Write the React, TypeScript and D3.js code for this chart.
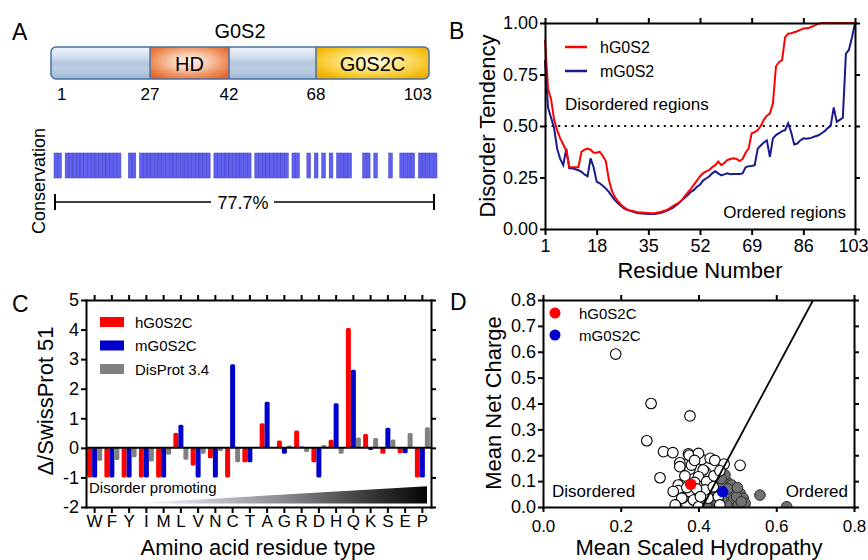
import { useEffect, useRef } from "react";
import * as d3 from "d3";

const FONT = "'Liberation Sans', Arial, Helvetica, sans-serif";

// ---- Panel A: domain map and conservation track
const domainBounds = [1, 27, 42, 68, 103];
const domainNames = ["", "HD", "", "G0S2C"];
const domainKinds = ["plain", "hd", "plain", "c"];
const domainFrac = [0, 0.262, 0.471, 0.701, 1]; // schematic, not to scale
const nonConserved = [3, 19, 20, 23, 43, 54, 64, 67, 68, 70, 72, 74, 76, 81, 82, 83, 86, 88, 89, 90, 92, 93, 98];
const residueCount = 103;
const conservationPct = "77.7%";

// ---- Panel B: disorder tendency per residue
const residueTicks = [1, 18, 35, 52, 69, 86, 103];
const tendencyTicks = [0, 0.25, 0.5, 0.75, 1];
const hG0S2 = [
  0.92, 0.68, 0.63, 0.53, 0.48, 0.44, 0.41, 0.38, 0.30, 0.30,
  0.30, 0.30, 0.375, 0.385, 0.39, 0.385, 0.37, 0.37, 0.375, 0.355,
  0.33, 0.24, 0.185, 0.155, 0.135, 0.118, 0.105, 0.095, 0.09, 0.087,
  0.083, 0.081, 0.08, 0.079, 0.078, 0.077, 0.077, 0.08, 0.083, 0.087,
  0.092, 0.10, 0.11, 0.12, 0.127, 0.14, 0.16, 0.178, 0.195, 0.215,
  0.235, 0.255, 0.27, 0.28, 0.286, 0.30, 0.31, 0.327, 0.31, 0.32,
  0.335, 0.34, 0.343, 0.34, 0.33, 0.34, 0.37, 0.39, 0.465, 0.47,
  0.48, 0.50, 0.53, 0.55, 0.56, 0.61, 0.79, 0.81, 0.82, 0.93,
  0.948, 0.95, 0.955, 0.96, 0.967, 0.973, 0.975, 0.977, 0.984, 0.99,
  0.997, 1, 1, 1, 1, 1, 1, 1, 1, 1,
  1, 1, 1,
];
const mG0S2 = [
  0.82, 0.59, 0.54, 0.49, 0.39, 0.34, 0.31, 0.39, 0.295, 0.295,
  0.29, 0.285, 0.278, 0.265, 0.256, 0.343, 0.30, 0.23, 0.222, 0.21,
  0.197, 0.18, 0.16, 0.14, 0.125, 0.112, 0.10, 0.093, 0.088, 0.083,
  0.079, 0.077, 0.075, 0.074, 0.073, 0.073, 0.073, 0.075, 0.078, 0.082,
  0.088, 0.095, 0.103, 0.113, 0.125, 0.14, 0.152, 0.165, 0.18, 0.19,
  0.205, 0.215, 0.235, 0.245, 0.255, 0.27, 0.28, 0.27, 0.26, 0.265,
  0.27, 0.266, 0.267, 0.267, 0.267, 0.27, 0.30, 0.305, 0.306, 0.31,
  0.39, 0.405, 0.42, 0.43, 0.35, 0.44, 0.456, 0.465, 0.475, 0.48,
  0.513, 0.47, 0.41, 0.415, 0.43, 0.44, 0.438, 0.44, 0.445, 0.45,
  0.455, 0.465, 0.475, 0.49, 0.50, 0.59, 0.52, 0.53, 0.54, 0.85,
  0.87, 0.93, 1.0,
];

// ---- Panel C: composition profile
const aminoAcids = ["W", "F", "Y", "I", "M", "L", "V", "N", "C", "T", "A", "G", "R", "D", "H", "Q", "K", "S", "E", "P"];
const hG0S2C = [-1, -1, -1, -1, -1, 0.5, -0.6, -0.35, -1, -0.49, 0.83, 0.25, 0.59, -0.49, 0.27, 4.05, 0.47, -0.2, -0.18, -1];
const mG0S2C = [-1, -1, -1, -1, -1, 0.78, -1, -1, 2.83, -0.49, 1.56, -0.2, 0.05, -1, 1.51, 2.64, -0.07, 0.68, -0.18, -1];
const disProt = [-0.44, -0.41, -0.32, -0.46, -0.23, -0.4, -0.2, -0.11, -0.49, 0.02, 0.03, 0.08, -0.14, 0.1, -0.2, 0.35, 0.33, 0.28, 0.5, 0.7];
const compTicks = [-2, -1, 0, 1, 2, 3, 4, 5];

// ---- Panel D: charge-hydropathy plot
const hydroTicks = [0, 0.2, 0.4, 0.6, 0.8];
const chargeTicks = [0, 0.1, 0.2, 0.3, 0.4, 0.5, 0.6, 0.7, 0.8];
const disorderedPts = [
  [0.187, 0.591], [0.278, 0.40], [0.378, 0.352], [0.267, 0.256], [0.301, 0.113], [0.31, 0.214],
  [0.334, 0.21], [0.352, 0.171], [0.374, 0.205], [0.378, 0.146], [0.376, 0.2], [0.408, 0.184],
  [0.417, 0.136], [0.40, 0.207], [0.43, 0.188], [0.442, 0.18], [0.466, 0.166], [0.507, 0.161],
  [0.352, 0.156], [0.382, 0.162], [0.412, 0.143], [0.40, 0.117], [0.421, 0.098], [0.361, 0.091],
  [0.348, 0.085], [0.348, 0.063], [0.344, 0.004], [0.36, 0.035], [0.378, 0.059], [0.357, 0.034],
  [0.387, 0.027], [0.34, 0.008], [0.40, 0.001], [0.425, 0.034], [0.451, 0.04], [0.455, 0.008],
  [0.417, 0.066], [0.438, 0.078], [0.365, 0.12], [0.39, 0.095], [0.395, 0.07], [0.37, 0.075],
  [0.405, 0.04], [0.335, 0.06], [0.44, 0.12], [0.455, 0.14], [0.39, 0.18],
];
const orderedPts = [
  [0.451, 0.104], [0.473, 0.098], [0.485, 0.085], [0.494, 0.066], [0.507, 0.053], [0.515, 0.034],
  [0.52, 0.014], [0.481, 0.053], [0.49, 0.027], [0.473, 0.008], [0.502, 0.008], [0.434, 0.008],
  [0.421, 0.001], [0.442, 0.053], [0.468, 0.124], [0.46, 0.085], [0.475, 0.07], [0.498, 0.04],
  [0.46, 0.03], [0.448, 0.02], [0.51, 0.02], [0.458, 0.11], [0.558, 0.046], [0.627, 0.001],
  [0.43, 0.09], [0.5, 0.075],
];
const hPoint = [0.38, 0.088];
const mPoint = [0.462, 0.059];
const boundary = [[0.41, 0], [0.695, 0.8]];

const RED = "#ff0000";
const NAVY = "#1a1a8c";
const BLUE = "#0000cc";
const GRAY = "#808080";

function axisStyle(g: any, fs: number) {
  g.attr("font-family", FONT).attr("font-size", fs);
  g.select(".domain").attr("stroke-width", 2).attr("stroke-linecap", "square");
  g.selectAll(".tick line").attr("stroke-width", 2);
  g.selectAll(".tick text").attr("fill", "#000");
}

function text(g: any, x: number, y: number, s: string, fs: number, anchor = "start") {
  return g.append("text").attr("x", x).attr("y", y).attr("font-size", fs)
    .attr("font-family", FONT).attr("text-anchor", anchor).attr("fill", "#000").text(s);
}

function vtext(g: any, x: number, y: number, s: string, fs: number) {
  return g.append("text").attr("transform", `translate(${x},${y}) rotate(-90)`)
    .attr("font-size", fs).attr("font-family", FONT).attr("text-anchor", "middle").text(s);
}

function addStops(grad: any, stops: [number, string][]) {
  stops.forEach(([o, c]) => grad.append("stop").attr("offset", o).attr("stop-color", c));
}

export default function App() {
  const svgRef = useRef<SVGSVGElement>(null);

  useEffect(() => {
    const svg = d3.select(svgRef.current);
    svg.selectAll("*").remove();
    const defs = svg.append("defs");

    // ================= A =================
    const ga = svg.append("g");
    text(ga, 12, 40, "A", 23);
    text(ga, 240, 38, "G0S2", 20, "middle");

    addStops(defs.append("linearGradient").attr("id", "gBlue").attr("x1", 0).attr("y1", 0).attr("x2", 0).attr("y2", 1),
      [[0, "#eef3f8"], [0.3, "#d3dfec"], [0.5, "#b2c6de"], [0.7, "#bccee3"], [1, "#9db6d6"]]);
    addStops(defs.append("radialGradient").attr("id", "gHD").attr("cx", "50%").attr("cy", "45%").attr("r", "65%"),
      [[0, "#fff8f2"], [0.35, "#f8cdb0"], [0.75, "#ee8a55"], [1, "#e4652a"]]);
    addStops(defs.append("radialGradient").attr("id", "gC").attr("cx", "50%").attr("cy", "45%").attr("r", "65%"),
      [[0, "#fffce8"], [0.35, "#fde88e"], [0.8, "#f5c21a"], [1, "#eeac00"]]);
    const fills: any = { plain: "url(#gBlue)", hd: "url(#gHD)", c: "url(#gC)" };

    const barL = 51, barR = 429, barT = 47, barH = 32;
    const dx = d3.scaleLinear().domain(domainBounds).range(domainFrac.map(f => barL + f * (barR - barL)));
    defs.append("clipPath").attr("id", "barClip").append("rect")
      .attr("x", barL).attr("y", barT).attr("width", barR - barL).attr("height", barH).attr("rx", 5);
    const segs = domainBounds.slice(0, -1).map((b, i) => ({ a: b, b: domainBounds[i + 1], kind: domainKinds[i], name: domainNames[i] }));
    ga.append("g").attr("clip-path", "url(#barClip)").selectAll("rect").data(segs).enter().append("rect")
      .attr("x", d => dx(d.a)).attr("y", barT).attr("width", d => dx(d.b) - dx(d.a)).attr("height", barH)
      .attr("fill", d => fills[d.kind]);
    ga.selectAll("line.sep").data(domainBounds.slice(1, -1)).enter().append("line")
      .attr("x1", d => dx(d)).attr("x2", d => dx(d)).attr("y1", barT).attr("y2", barT + barH)
      .attr("stroke", "#4a70a5").attr("stroke-width", 1.5);
    ga.append("rect").attr("x", barL).attr("y", barT).attr("width", barR - barL).attr("height", barH).attr("rx", 5)
      .attr("fill", "none").attr("stroke", "#4a70a5").attr("stroke-width", 1.5);
    segs.filter(d => d.name).forEach(d => text(ga, (dx(d.a) + dx(d.b)) / 2, 71, d.name, 20, "middle"));
    domainBounds.forEach((b, i) => {
      const last = i === domainBounds.length - 1;
      const anchor = i === 0 ? "start" : last ? "end" : "middle";
      const off = i === 0 ? 6 : last ? 3 : 0;
      text(ga, dx(b) + off, 100, String(b), 17, anchor);
    });

    // conservation track
    const cons = d3.range(1, residueCount + 1).filter(r => !nonConserved.includes(r));
    const rx = d3.scaleBand<number>().domain(d3.range(1, residueCount + 1)).range([54, 437]);
    ga.append("g").selectAll("rect").data(cons).enter().append("rect")
      .attr("x", d => rx(d)!).attr("y", 153).attr("width", rx.bandwidth()).attr("height", 25)
      .attr("fill", "#6060ee").attr("stroke", "#4040c4").attr("stroke-width", 0.5);
    vtext(ga, 45, 181, "Conservation", 18);
    const sbY = 202, sbL = 55, sbR = 434;
    ga.append("line").attr("x1", sbL).attr("x2", sbR).attr("y1", sbY).attr("y2", sbY).attr("stroke", "#000").attr("stroke-width", 1.5);
    [sbL, sbR].forEach(x => ga.append("line").attr("x1", x).attr("x2", x).attr("y1", sbY - 8).attr("y2", sbY + 8).attr("stroke", "#000").attr("stroke-width", 2));
    ga.append("rect").attr("x", 211).attr("y", sbY - 10).attr("width", 63).attr("height", 20).attr("fill", "#fff");
    text(ga, 243, 209, conservationPct, 18, "middle");

    // ================= B =================
    const gb = svg.append("g");
    const bx = d3.scaleLinear().domain([1, 103]).range([545, 855]);
    const by = d3.scaleLinear().domain([0, 1]).range([229, 23]);
    text(gb, 449, 39, "B", 23);
    const line = d3.line<number>().x((_, i) => bx(i + 1)).y(d => by(d));
    gb.append("line").attr("x1", bx(1)).attr("x2", bx(103)).attr("y1", by(0.5)).attr("y2", by(0.5))
      .attr("stroke", "#000").attr("stroke-width", 2).attr("stroke-dasharray", "2,4.6");
    gb.append("path").datum(mG0S2).attr("d", line).attr("fill", "none").attr("stroke", NAVY).attr("stroke-width", 2);
    gb.append("path").datum(hG0S2).attr("d", line).attr("fill", "none").attr("stroke", RED).attr("stroke-width", 2);
    const bBottom = gb.append("g").attr("transform", `translate(0,${by(0)})`)
      .call(d3.axisBottom(bx).tickValues(residueTicks).tickSize(6).tickPadding(4).tickSizeOuter(0)).call(axisStyle, 18);
    // last label sits flush with the page edge
    bBottom.selectAll(".tick text").filter((d: any) => d === 103).attr("text-anchor", "end").attr("dx", 13);
    gb.append("g").attr("transform", `translate(0,${by(1)})`)
      .call(d3.axisTop(bx).tickValues(residueTicks).tickSize(5).tickFormat(() => "").tickSizeOuter(0)).call(axisStyle, 18);
    gb.append("g").attr("transform", `translate(${bx(1)},0)`)
      .call(d3.axisLeft(by).tickValues(tendencyTicks).tickFormat(d3.format(".2f")).tickSize(5).tickPadding(2).tickSizeOuter(0)).call(axisStyle, 18);
    gb.append("g").attr("transform", `translate(${bx(103)},0)`)
      .call(d3.axisRight(by).tickValues(tendencyTicks).tickFormat(() => "").tickSize(5).tickSizeOuter(0)).call(axisStyle, 18);
    [{ name: "hG0S2", c: RED }, { name: "mG0S2", c: NAVY }].forEach((d, i) => {
      const y = 47 + i * 24;
      gb.append("line").attr("x1", 565).attr("x2", 587).attr("y1", y).attr("y2", y).attr("stroke", d.c).attr("stroke-width", 2.5);
      text(gb, 600, y + 6, d.name, 16);
    });
    text(gb, 565, 110, "Disordered regions", 17);
    text(gb, 846, 218, "Ordered regions", 17, "end");
    text(gb, 700, 278, "Residue Number", 22, "middle");
    vtext(gb, 495, 126, "Disorder Tendency", 22);

    // ================= C =================
    const gc = svg.append("g");
    const cx = d3.scaleBand().domain(aminoAcids).range([86, 431]);
    const cy = d3.scaleLinear().domain([-2, 5]).range([507, 300]);
    const sub = d3.scaleBand().domain(["h", "m", "d"]).range([-7.5, 7.5]);
    text(gc, 12, 312, "C", 23);

    addStops(defs.append("linearGradient").attr("id", "gWedge").attr("x1", 0).attr("y1", 0).attr("x2", 1).attr("y2", 0),
      [[0, "#ffffff"], [0.15, "#dfe1ec"], [0.5, "#8e8e94"], [0.8, "#3a3a3a"], [1, "#050505"]]);
    const wl = cx("Y")! + cx.bandwidth() / 2, wr = cx.range()[1] - 4;
    gc.append("path").attr("d", `M${wl},${cy(-1.88)}L${wr},${cy(-1.3)}L${wr},${cy(-1.88)}Z`).attr("fill", "url(#gWedge)");
    text(gc, 89, 493, "Disorder promoting", 15);

    const series = [
      { key: "h", vals: hG0S2C, c: RED, name: "hG0S2C" },
      { key: "m", vals: mG0S2C, c: BLUE, name: "mG0S2C" },
      { key: "d", vals: disProt, c: GRAY, name: "DisProt 3.4" },
    ];
    series.forEach(s => {
      gc.append("g").selectAll("rect").data(aminoAcids.map((a, i) => ({ a, v: s.vals[i] }))).enter().append("rect")
        .attr("x", d => cx(d.a)! + cx.bandwidth() / 2 + sub(s.key)!)
        .attr("y", d => cy(Math.max(0, d.v)))
        .attr("width", sub.bandwidth())
        .attr("height", d => Math.abs(cy(d.v) - cy(0)))
        .attr("rx", 1.5).attr("fill", s.c);
    });
    gc.append("line").attr("x1", 86).attr("x2", 431).attr("y1", cy(0)).attr("y2", cy(0)).attr("stroke", "#000").attr("stroke-width", 2);
    gc.append("g").attr("transform", `translate(0,${cy(-2)})`)
      .call(d3.axisBottom(cx).tickSize(6).tickPadding(2).tickSizeOuter(0)).call(axisStyle, 17);
    gc.append("g").attr("transform", `translate(0,${cy(5)})`)
      .call(d3.axisTop(cx).tickSize(5).tickFormat(() => "").tickSizeOuter(0)).call(axisStyle, 17);
    gc.append("g").attr("transform", `translate(${cx.range()[0]},0)`)
      .call(d3.axisLeft(cy).tickValues(compTicks).tickFormat((d: any) => String(d)).tickSize(5).tickPadding(2).tickSizeOuter(0)).call(axisStyle, 18);
    gc.append("g").attr("transform", `translate(${cx.range()[1]},0)`)
      .call(d3.axisRight(cy).tickValues(compTicks).tickSize(5).tickFormat(() => "").tickSizeOuter(0)).call(axisStyle, 18);
    series.forEach((s, i) => {
      const y = 317 + i * 23.5;
      gc.append("rect").attr("x", 100).attr("y", y).attr("width", 24).attr("height", 10).attr("fill", s.c);
      text(gc, 135, y + 10.5, s.name, 15);
    });
    text(gc, 258, 555, "Amino acid residue type", 22, "middle");
    vtext(gc, 53, 401, "Δ/SwissProt 51", 22);

    // ================= D =================
    const gd = svg.append("g");
    const hx = d3.scaleLinear().domain([0, 0.8]).range([543, 854]);
    const qy = d3.scaleLinear().domain([0, 0.8]).range([507, 300]);
    text(gd, 450, 310, "D", 23);
    defs.append("clipPath").attr("id", "dClip").append("rect")
      .attr("x", hx(0)).attr("y", qy(0.8)).attr("width", hx(0.8) - hx(0)).attr("height", qy(0) - qy(0.8));
    const pts = gd.append("g").attr("clip-path", "url(#dClip)");
    pts.selectAll("circle.o").data(orderedPts).enter().append("circle")
      .attr("cx", d => hx(d[0])).attr("cy", d => qy(d[1])).attr("r", 5.3)
      .attr("fill", "#727272").attr("stroke", "#2a2a2a").attr("stroke-width", 1);
    pts.selectAll("circle.w").data(disorderedPts).enter().append("circle")
      .attr("cx", d => hx(d[0])).attr("cy", d => qy(d[1])).attr("r", 5.3)
      .attr("fill", "#fff").attr("stroke", "#000").attr("stroke-width", 1.1);
    pts.append("path").datum(boundary).attr("d", d3.line<number[]>().x(d => hx(d[0])).y(d => qy(d[1])))
      .attr("stroke", "#000").attr("stroke-width", 1.8).attr("fill", "none");
    pts.append("circle").attr("cx", hx(hPoint[0])).attr("cy", qy(hPoint[1])).attr("r", 5.8).attr("fill", RED);
    pts.append("circle").attr("cx", hx(mPoint[0])).attr("cy", qy(mPoint[1])).attr("r", 5.8).attr("fill", BLUE);
    const f1 = d3.format(".1f");
    gd.append("g").attr("transform", `translate(0,${qy(0)})`)
      .call(d3.axisBottom(hx).tickValues(hydroTicks).tickFormat(f1).tickSize(5).tickPadding(8).tickSizeOuter(0)).call(axisStyle, 17);
    gd.append("g").attr("transform", `translate(0,${qy(0.8)})`)
      .call(d3.axisTop(hx).tickValues(hydroTicks).tickFormat(() => "").tickSize(5).tickSizeOuter(0)).call(axisStyle, 17);
    gd.append("g").attr("transform", `translate(${hx(0)},0)`)
      .call(d3.axisLeft(qy).tickValues(chargeTicks).tickFormat(f1).tickSize(5).tickPadding(2).tickSizeOuter(0)).call(axisStyle, 18);
    gd.append("g").attr("transform", `translate(${hx(0.8)},0)`)
      .call(d3.axisRight(qy).tickValues(chargeTicks).tickFormat(() => "").tickSize(5).tickSizeOuter(0)).call(axisStyle, 18);
    [{ name: "hG0S2C", c: RED }, { name: "mG0S2C", c: BLUE }].forEach((d, i) => {
      const y = 313 + i * 22;
      gd.append("circle").attr("cx", 555).attr("cy", y).attr("r", 5.5).attr("fill", d.c);
      text(gd, 579, y + 5.5, d.name, 15);
    });
    text(gd, 552, 497, "Disordered", 17);
    text(gd, 848, 497, "Ordered", 17, "end");
    text(gd, 699, 555, "Mean Scaled Hydropathy", 22, "middle");
    vtext(gd, 501, 403, "Mean Net Charge", 22);
  }, []);

  return (
    <svg ref={svgRef} width={868} height={560}
      style={{ position: "absolute", left: 0, top: 0, background: "#fff", display: "block" }} />
  );
}
